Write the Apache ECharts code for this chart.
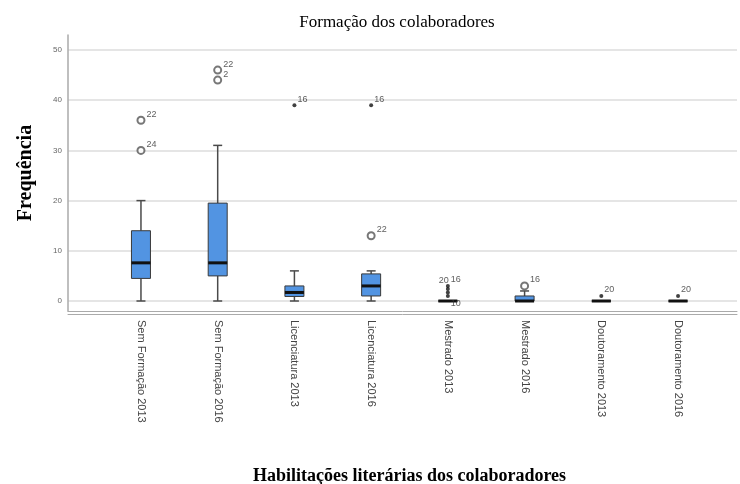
<!DOCTYPE html>
<html>
<head>
<meta charset="utf-8">
<script src="https://cdn.jsdelivr.net/npm/echarts@6/dist/echarts.min.js"></script>
<style>
  html, body { margin: 0; padding: 0; background: #fff; }
  #chart { width: 740px; height: 484px; }
</style>
</head>
<body>
<div id="chart"></div>
<script>
// categorias e resumo dos boxplots (min, Q1, mediana, Q3, max)
var categories = ['Sem Formação 2013', 'Sem Formação 2016', 'Licenciatura 2013', 'Licenciatura 2016',
    'Mestrado 2013', 'Mestrado 2016', 'Doutoramento 2013', 'Doutoramento 2016'];
var mins    = [0, 0, 0, 0, 0, 0, 0, 0];
var q1s     = [4.5, 5, 0.9, 1, 0, 0, 0, 0];
var medians = [7.6, 7.6, 1.7, 3, 0, 0, 0, 0];
var q3s     = [14, 19.5, 3, 5.4, 0, 1, 0, 0];
var maxs    = [20, 31, 6, 6, 0, 2, 0, 0];
var yTicks  = [0, 10, 20, 30, 40, 50];

// outliers (círculos): [categoria, valor, caso]
var outlierCat = [0, 0, 1, 1, 3, 5];
var outlierVal = [36, 30, 46, 44, 13, 3];
var outlierId  = ['22', '24', '22', '2', '22', '16'];

// extremos (asteriscos)
var extremeCat = [2, 3, 4, 4, 4, 4, 6, 7];
var extremeVal = [39, 39, 3, 2.4, 1.7, 1, 1, 1];
var extremeId  = ['16', '16', '16', '', '', '10', '20', '20'];

var boxData = [];
for (var i = 0; i < categories.length; i++) {
    boxData.push([i, mins[i], q1s[i], medians[i], q3s[i], maxs[i]]);
}

var outlierData = [];
for (var i = 0; i < outlierCat.length; i++) {
    outlierData.push({ name: outlierId[i], value: [outlierCat[i], outlierVal[i]] });
}
var extremeData = [];
for (var i = 0; i < extremeCat.length; i++) {
    extremeData.push({ name: extremeId[i], value: [extremeCat[i], extremeVal[i]] });
}
// o "20" do Mestrado 2013 fica à esquerda, o "10" por baixo
extremeData.push({ name: '20', value: [4, 3], symbolSize: 0,
    label: { position: 'left', offset: [2, -5] } });
extremeData[5].label = { offset: [0, 8] };

function renderBox(params, api) {
    var i = api.value(0);
    var lo = api.coord([i, api.value(1)]);
    var q1 = api.coord([i, api.value(2)]);
    var med = api.coord([i, api.value(3)]);
    var q3 = api.coord([i, api.value(4)]);
    var hi = api.coord([i, api.value(5)]);
    var x = lo[0], bw = 19, cw = 9;
    var lineStyle = { stroke: '#4a4a4a', lineWidth: 1.5 };
    return {
        type: 'group',
        children: [
            { type: 'line', shape: { x1: x, y1: hi[1], x2: x, y2: q3[1] }, style: lineStyle },
            { type: 'line', shape: { x1: x, y1: q1[1], x2: x, y2: lo[1] }, style: lineStyle },
            { type: 'line', shape: { x1: x - cw / 2, y1: hi[1], x2: x + cw / 2, y2: hi[1] }, style: lineStyle },
            { type: 'line', shape: { x1: x - cw / 2, y1: lo[1], x2: x + cw / 2, y2: lo[1] }, style: lineStyle },
            { type: 'rect', shape: { x: x - bw / 2, y: q3[1], width: bw, height: q1[1] - q3[1] },
              style: { fill: '#5294e2', stroke: '#3a3a3a', lineWidth: 1 } },
            { type: 'line', shape: { x1: x - bw / 2, y1: med[1], x2: x + bw / 2, y2: med[1] },
              style: { stroke: '#111', lineWidth: 3 } }
        ]
    };
}

var labelStyle = {
    show: true,
    formatter: '{b}',
    position: 'right',
    distance: 1,
    offset: [0, -6],
    fontFamily: 'Liberation Sans',
    fontSize: 9,
    color: '#333'
};

var chart = echarts.init(document.getElementById('chart'));
var option = {
    backgroundColor: '#fff',
    animation: false,
    title: {
        text: 'Formação dos colaboradores',
        left: 392, top: 9, textAlign: 'center',
        textStyle: { fontFamily: 'Liberation Serif', fontSize: 17, fontWeight: 'normal', color: '#000' }
    },
    grid: [
        { left: 68, right: 3, top: 35, bottom: 173, outerBoundsMode: 'none' },
        { left: 68, right: 3, top: 50, bottom: 183, outerBoundsMode: 'none' },
        { left: 102.6, right: 23.6, top: 50, bottom: 183, outerBoundsMode: 'none' }
    ],
    xAxis: [
        { gridIndex: 0, type: 'value', position: 'bottom', axisLine: { show: true, onZero: false, lineStyle: { color: '#aaa', width: 1 } },
          axisTick: { show: false }, axisLabel: { show: false }, splitLine: { show: false } },
        { gridIndex: 0, type: 'value', position: 'bottom', offset: 3, axisLine: { show: true, onZero: false, lineStyle: { color: '#aaa', width: 1 } },
          axisTick: { show: false }, axisLabel: { show: false }, splitLine: { show: false } },
        { gridIndex: 1, type: 'value', show: false },
        { gridIndex: 2, type: 'category', data: categories,
          name: 'Habilitações literárias dos colaboradores', nameLocation: 'middle', nameGap: 166,
          nameTextStyle: { fontFamily: 'Liberation Serif', fontSize: 18, fontWeight: 'bold', color: '#000' },
          axisLine: { show: false }, axisTick: { show: false },
          axisLabel: { rotate: -90, margin: 19, fontFamily: 'Liberation Sans', fontSize: 11, color: '#444' } }
    ],
    yAxis: [
        { gridIndex: 0, type: 'value', axisLine: { show: true, onZero: false, lineStyle: { color: '#aaa', width: 1.5 } },
          axisTick: { show: false }, axisLabel: { show: false }, splitLine: { show: false },
          name: 'Frequência', nameLocation: 'middle', nameGap: 32, nameRotate: 90,
          nameTextStyle: { fontFamily: 'Liberation Serif', fontSize: 20, fontWeight: 'bold', color: '#000' } },
        { gridIndex: 1, type: 'value', min: yTicks[0], max: yTicks[yTicks.length - 1], interval: 10,
          axisLine: { show: false }, axisTick: { show: false },
          axisLabel: { margin: 6, fontFamily: 'Liberation Sans', fontSize: 8, color: '#666' },
          splitLine: { lineStyle: { color: '#dcdcdc', width: 1.5 } } },
        { gridIndex: 2, type: 'value', min: 0, max: 50, show: false }
    ],
    series: [
        { type: 'custom', xAxisIndex: 3, yAxisIndex: 2, renderItem: renderBox, data: boxData },
        { type: 'scatter', xAxisIndex: 3, yAxisIndex: 2, symbol: 'emptyCircle', symbolSize: 7,
          itemStyle: { color: '#555', borderWidth: 0.8 }, label: labelStyle, data: outlierData },
        { type: 'scatter', xAxisIndex: 3, yAxisIndex: 2, symbol: 'circle', symbolSize: 4,
          itemStyle: { color: '#111' }, label: labelStyle, data: extremeData }
    ]
};
chart.setOption(option);
</script>
</body>
</html>
